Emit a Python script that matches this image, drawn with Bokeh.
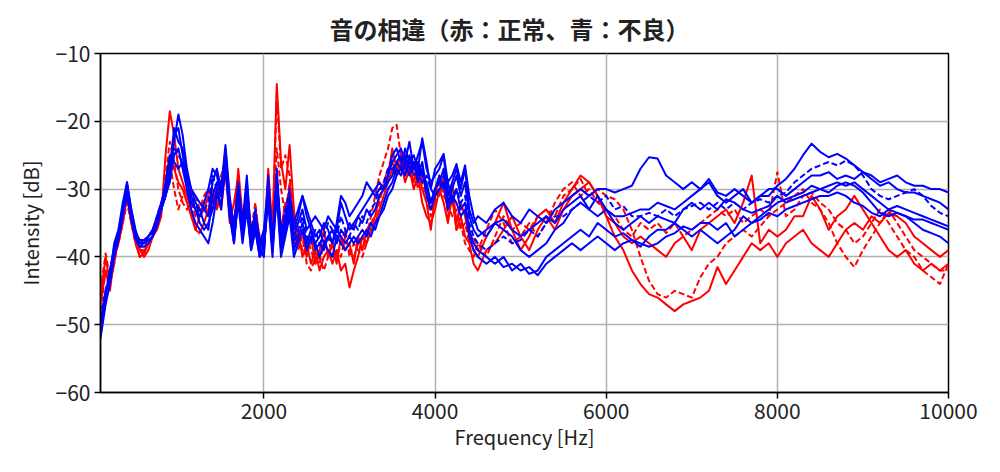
from bokeh.plotting import figure
from bokeh.models import Range1d, FixedTicker
from bokeh.embed import file_html
from bokeh.resources import INLINE

# Frequency sampling (Hz): 50 Hz steps up to 4450 Hz, 100 Hz steps above
FREQ = [90] + list(range(150, 4500, 50)) + list(range(4500, 10001, 100))

TITLE = "音の相違（赤：正常、青：不良）"
X_TICKS = [2000, 4000, 6000, 8000, 10000]
Y_TICKS = [-60, -50, -40, -30, -20, -10]

# ---- red (normal) ----
red_solid_1 = [
    -46, -40, -44, -41, -37, -34, -30, -34, -37, -39,
    -40, -39, -37, -36, -34, -25, -18.5, -22, -27, -29,
    -31, -33, -36, -36.5, -35, -33, -30, -33, -29, -25,
    -33, -36, -27, -34, -31, -37, -34, -38, -38, -27,
    -36, -14.5, -26, -30, -23.5, -33, -38, -36, -40, -37,
    -41, -39, -36, -40, -38, -41, -37, -39, -38, -41,
    -37, -39, -36, -35, -34, -31, -30, -28, -24, -27,
    -25, -28, -26, -29, -27, -30, -32, -36, -31, -28,
    -30, -33, -29, -35, -32, -34, -37, -39,
    -40, -37, -35, -32, -36, -39, -37, -34, -33, -35,
    -32, -30, -28, -29, -31, -34, -35, -37, -38, -37,
    -38, -39, -40, -38, -37, -39, -36, -35, -34, -33,
    -35, -32, -28, -38, -36, -37, -36, -34, -34, -31,
    -33, -36, -34, -33, -31, -33, -35, -37, -39, -40,
    -39, -41, -42, -41, -42, -41,
]
red_solid_2 = [
    -47, -42, -45, -40, -38, -35, -31, -35, -38, -40,
    -39.5, -38, -37, -35, -33, -30, -25, -27, -29, -30,
    -32, -34, -36, -34, -33, -31, -32, -30, -33, -27,
    -35, -32, -28, -36, -33, -38, -35, -39, -36, -31,
    -38, -29, -36, -32, -34, -38, -36, -40, -38, -41,
    -39, -42, -40, -39, -41, -39, -42, -41, -44.5, -42,
    -40, -37, -38, -36, -35, -33, -31, -29, -27, -28,
    -26, -29, -27, -30, -28, -32, -34, -35, -33, -30,
    -32, -35, -31, -36, -34, -37, -38, -41,
    -42, -39, -38, -36, -34, -37, -39, -36, -34, -36,
    -33, -31, -30, -29, -31, -34, -37, -39, -42, -44,
    -45.5, -46, -47, -48, -47, -46.5, -46, -45, -41.5, -44,
    -42, -40, -38, -39, -38, -40, -38, -37, -36, -38,
    -39, -40, -38, -36, -35, -36, -34, -35, -33.5, -34,
    -35, -37, -38, -39, -40, -39,
]
red_dash_1 = [
    -45, -39.5, -43, -41, -37, -34, -31, -35, -37, -39,
    -39, -38, -37, -35, -33, -28, -23, -26, -30, -32,
    -33, -32, -34, -33, -31, -30, -33, -31, -28, -26,
    -34, -37, -30, -35, -32, -38, -33, -37, -39, -28,
    -37, -16, -27, -25, -28, -36, -39, -37, -41, -42,
    -40, -41, -38, -37, -40, -39, -40, -37, -39, -40,
    -38, -39, -37, -34, -31, -28, -26, -24, -21, -20.5,
    -25, -27, -26, -28, -26, -29, -31, -34, -30, -31,
    -28, -34, -31, -36, -35, -38, -39, -40,
    -38, -40, -37, -34, -36, -35, -36, -34, -33, -34,
    -31, -30, -28.5, -31, -30, -31, -31.5, -33, -36, -40,
    -43.5, -45.5, -46, -45, -45.5, -46, -43, -41, -40, -38,
    -37, -36, -37, -35.5, -34, -27.5, -34, -33, -31, -30.5,
    -32, -33, -35, -36, -38, -37, -35, -33, -35, -37,
    -39, -40, -42, -43, -44, -41,
]
red_dash_2 = [
    -48, -42, -44, -40, -38, -35, -32, -35, -38, -40,
    -39, -37, -36, -34, -32, -30, -26, -30, -33, -31,
    -30, -32, -31, -33, -32, -34, -31, -33, -30, -28,
    -32, -35, -31, -37, -30, -36, -32, -38, -37, -30,
    -35, -24, -30, -34, -29, -35, -37, -39, -37, -39,
    -41, -40, -42, -40, -38, -40, -38, -36, -40, -38,
    -39, -40, -38, -36, -34, -32, -29, -27, -26, -28,
    -27, -25, -28, -27, -30, -28, -30, -33, -32, -29,
    -31, -32, -34, -33, -36, -35, -38, -37,
    -39, -36, -33, -35, -38, -37, -35, -37, -35, -32,
    -30, -29, -31, -30, -32, -33, -34, -36, -37, -35,
    -36, -35, -36.5, -35, -37, -36, -35, -34, -33, -34,
    -33, -35, -34, -33, -34, -33, -32, -31, -30, -32,
    -33, -35, -38, -40, -41.5, -39, -37, -35, -33, -35,
    -37, -39, -40, -41, -42, -42,
]

# ---- blue (defective) ----
blue_solid_1 = [
    -51.5, -46, -42, -39, -37, -33, -29, -33, -36, -38,
    -38, -37.5, -37, -35.5, -33, -31, -28, -23, -19, -22,
    -27, -30, -31, -32, -33, -34, -29, -27, -30, -23.5,
    -31, -36, -29, -35, -28, -37, -33, -39, -40, -28,
    -38, -27, -37, -34, -31, -35, -33, -31, -34, -36,
    -38, -37, -35, -36, -38, -35, -31, -32, -34, -33,
    -32, -31, -29, -30, -31, -30, -30, -28, -26, -25,
    -24, -26, -23, -27, -25, -23, -27, -29, -28, -27,
    -25, -31, -29, -27, -30, -27, -33, -35,
    -34, -35, -33, -32, -34, -35, -33, -34, -35, -33,
    -32, -31, -30, -31, -30, -30, -30.5, -30, -29.5, -27,
    -25.3, -25.5, -28, -29, -30, -29, -30, -28.5, -30.5, -31,
    -30, -31, -32, -31, -30, -30, -31, -30, -29, -28,
    -28, -27.5, -28.5, -28, -28.5, -27.5, -28, -29, -28.5, -28,
    -29, -29.5, -29.5, -30, -30, -30.5,
]
blue_solid_2 = [
    -50, -45, -43, -38, -36, -32, -29, -34, -37, -38,
    -38, -37, -36, -35, -33, -31, -27, -21, -23, -24,
    -28, -30, -32, -33, -35, -36, -31, -29, -31, -25,
    -33, -38, -31, -36, -30, -38, -35, -39, -37, -30,
    -39, -28, -38, -35, -32, -37, -35, -33, -36, -35,
    -37, -36, -38, -37, -36, -38, -36, -37, -35, -36,
    -34, -35, -33, -34, -33, -31, -30, -28, -25, -24,
    -26, -25, -27, -26, -28, -26, -30, -32, -30, -29,
    -27, -32, -30, -28, -31, -29, -34, -36,
    -37, -36, -35, -34.5, -36, -37, -36, -35, -34, -35,
    -33, -32, -31, -33, -34, -33, -34, -34, -33.5, -33,
    -33, -32, -32.5, -33, -32, -31, -30, -29, -31, -32,
    -31, -30, -32, -31, -31, -29.5, -28.5, -27, -25, -23.3,
    -24.5, -25.3, -24.8, -25.5, -26.5, -27.5, -28.5, -29.5, -29, -30,
    -30.5, -30.5, -31, -31.5, -32, -33,
]
blue_dash_1 = [
    -49, -45, -42, -39, -36, -33, -30, -34, -37, -38.5,
    -38, -37, -36.5, -35, -32, -30, -28, -24, -25, -26,
    -28, -31, -32, -34, -33, -32, -28, -30, -31, -26,
    -32, -35, -30, -37, -31, -36, -34, -37, -39, -31,
    -37, -29, -36, -33, -30, -38, -36, -34, -37, -38,
    -36, -38, -37, -35, -36, -37, -34, -36, -37, -35,
    -36, -34, -35, -33, -32, -30, -29, -27, -27, -26,
    -25, -27, -26, -28, -27, -29, -28, -30, -31, -30,
    -28, -30, -31, -30, -32, -31, -35, -37,
    -38, -39, -38, -37, -38, -37.5, -36, -37, -35, -34,
    -34, -33, -32, -31, -32, -31, -33, -32.5, -34, -34,
    -33.5, -34, -33, -34, -33, -32.5, -32, -33, -32, -33,
    -32, -33, -32, -31.5, -32, -31, -30.5, -29, -28, -27,
    -26.5, -26, -26.5, -25.8, -26.5, -28, -30, -31, -31.5, -31,
    -30.5, -30, -31, -32.5, -33.5, -34,
]
blue_solid_3 = [
    -50, -45, -43, -39, -37, -34, -30, -34, -37, -38,
    -37.5, -37, -36, -35, -33, -31, -29, -25, -24, -27,
    -30, -33, -35, -36, -37, -38, -35, -31, -32, -27,
    -34, -37, -32, -38, -33, -39, -36, -40, -38, -32,
    -40, -30, -39, -36, -33, -39, -37, -35, -38, -36,
    -39, -38, -39, -37, -38, -36, -37, -38, -37, -38,
    -37, -36, -37, -35, -36, -34, -33, -31, -30, -28,
    -27, -28, -25, -27, -26, -28, -29, -32, -30, -28,
    -30, -29, -32, -30, -33, -32, -36, -38,
    -39, -40, -41, -40, -42, -41, -42.5, -42, -40, -39,
    -38, -37, -36, -37, -35, -36, -37, -36.5, -37.5, -38,
    -38.5, -38, -37, -36.5, -35.5, -36, -35, -35, -36, -35,
    -37, -36, -35, -34, -33, -32, -31.5, -31, -30.5, -29.5,
    -30, -29.5, -29, -29.5, -29, -30, -31, -32, -33, -32.5,
    -33, -33.5, -34, -34.5, -35, -35.5,
]
blue_solid_4 = [
    -51, -46, -42, -38.5, -36.5, -33, -29.5, -33, -36.5, -37.5,
    -37.5, -37, -36, -34, -32, -30, -27, -22, -21, -25,
    -29, -32, -33, -34, -32, -30, -27, -28, -31, -24,
    -32, -36, -30, -36, -29, -37, -34, -38, -36, -29,
    -38, -28.5, -37, -34, -31, -36, -34, -31, -33, -35,
    -34, -35, -36, -34, -35, -36, -32, -34, -36, -35,
    -34, -33, -32, -31, -30, -29, -30, -29, -28, -26,
    -27, -24, -26, -25, -27, -22.5, -26, -30, -27, -26,
    -24.8, -29, -28, -26.3, -29, -26.5, -31, -34,
    -36, -37, -35, -36, -37, -39, -40, -39, -38, -36,
    -35, -33, -32, -33, -31, -33, -35, -36, -35, -34,
    -35, -34, -34.5, -35, -33, -32, -33, -32, -33, -31.5,
    -32, -33, -33.5, -33, -32.5, -31, -32, -31.5, -31, -30.5,
    -30, -30.5, -29.5, -29, -29.5, -30.5, -32, -33.5, -34, -33.5,
    -34, -34.5, -34.5, -35, -35.5, -36,
]
blue_solid_5 = [
    -52, -47, -44, -40, -37.5, -34, -31, -34.5, -37.5, -38.5,
    -38.5, -38, -37, -35, -32.5, -29, -25, -26, -27, -26,
    -29, -31, -33, -35, -36, -35, -33, -30, -33, -26,
    -34, -38, -31, -37, -32, -39, -36, -40, -39, -30,
    -39, -31, -40, -37, -34, -40, -38, -36, -39, -37,
    -38, -40, -38, -39, -40, -37, -38, -39, -38, -37,
    -38, -37, -36, -37, -35, -34, -32, -30, -29, -27,
    -28, -26, -28, -26, -29, -27, -31, -33, -31, -30,
    -29, -33, -31, -32, -34, -33, -37, -39,
    -40, -41, -40, -41.5, -41, -42, -41.5, -42.7, -41, -40,
    -39, -38, -39, -38, -37, -38, -39, -38, -37.5, -38.5,
    -37, -36, -36, -35, -36, -37, -36, -37, -38, -37,
    -36, -34, -35, -34.5, -33.5, -34, -33, -32.5, -32, -31.5,
    -31, -31, -30.5, -31, -32, -32.5, -33.5, -34, -33, -33.5,
    -34, -35, -36, -36.5, -37, -38,
]

RED_SERIES = [(red_solid_1, "solid"), (red_solid_2, "solid"),
              (red_dash_1, "6 3"), (red_dash_2, "6 3")]
BLUE_SERIES = [(blue_solid_1, "solid"), (blue_solid_2, "solid"),
               (blue_dash_1, "6 3"), (blue_solid_3, "solid"),
               (blue_solid_4, "solid"), (blue_solid_5, "solid")]

for vals, _ in RED_SERIES + BLUE_SERIES:
    if len(vals) != len(FREQ):
        raise ValueError("length mismatch %d vs %d" % (len(vals), len(FREQ)))

FONT = "Noto Sans CJK JP"
TEXT_COLOR = "#222222"

p = figure(width=992, height=464, output_backend="svg", toolbar_location=None,
           x_range=Range1d(FREQ[0], FREQ[-1]), y_range=Range1d(-60, -10),
           min_border_left=100, min_border_right=44, min_border_top=53,
           min_border_bottom=72, title=TITLE)

p.title.text_font = FONT
p.title.text_font_size = "24px"
p.title.text_font_style = "bold"
p.title.align = "left"
p.title.offset = 229
p.title.text_color = TEXT_COLOR
p.title.standoff = 15

p.background_fill_color = "white"
p.border_fill_color = "white"
p.outline_line_color = "black"
p.outline_line_width = 1.5
p.outline_line_alpha = 1.0

p.xaxis.ticker = FixedTicker(ticks=X_TICKS)
p.yaxis.ticker = FixedTicker(ticks=Y_TICKS)
p.yaxis.major_label_overrides = {t: ("\u2212%d" % (-t)) for t in Y_TICKS}

for ax in (p.xaxis[0], p.yaxis[0]):
    ax.axis_line_color = "black"
    ax.axis_line_width = 1.5
    ax.major_tick_line_color = "black"
    ax.major_tick_line_width = 1.5
    ax.major_tick_out = 6
    ax.major_tick_in = 0
    ax.minor_tick_line_color = None
    ax.major_label_text_font = FONT
    ax.major_label_text_font_size = "21px"
    ax.major_label_text_color = TEXT_COLOR
    ax.major_label_standoff = 4
    ax.axis_label_text_font = FONT
    ax.axis_label_text_font_size = "20px"
    ax.axis_label_text_font_style = "normal"
    ax.axis_label_text_color = TEXT_COLOR

p.xaxis.axis_label = "Frequency [Hz]"
p.yaxis.axis_label = "Intensity [dB]"
p.xaxis.axis_label_standoff = 0
p.yaxis.axis_label_standoff = 8

p.grid.grid_line_color = "#b0b0b0"
p.grid.grid_line_width = 1.5

for vals, dash in RED_SERIES:
    p.line(FREQ, vals, line_color="#ff0000", line_width=2, line_dash=dash,
           line_join="round")
for vals, dash in BLUE_SERIES:
    p.line(FREQ, vals, line_color="#0000ff", line_width=2, line_dash=dash,
           line_join="round")

open("out.html", "w").write(file_html(p, INLINE))
